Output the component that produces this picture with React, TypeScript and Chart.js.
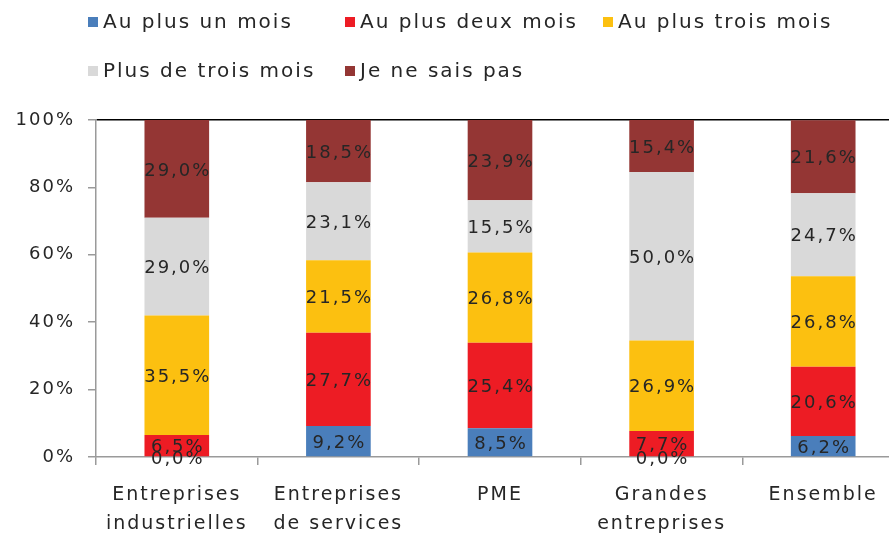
import React, { useEffect, useRef } from "react";
import { Chart, registerables } from "chart.js";

Chart.register(...registerables);

const categories: string[][] = [
  ["Entreprises", "industrielles"],
  ["Entreprises", "de services"],
  ["PME"],
  ["Grandes", "entreprises"],
  ["Ensemble"],
];

const seriesNames = [
  "Au plus un mois",
  "Au plus deux mois",
  "Au plus trois mois",
  "Plus de trois mois",
  "Je ne sais pas",
];

const auPlusUnMois = [0.0, 9.2, 8.5, 0.0, 6.2];
const auPlusDeuxMois = [6.5, 27.7, 25.4, 7.7, 20.6];
const auPlusTroisMois = [35.5, 21.5, 26.8, 26.9, 26.8];
const plusDeTroisMois = [29.0, 23.1, 15.5, 50.0, 24.7];
const jeNeSaisPas = [29.0, 18.5, 23.9, 15.4, 21.6];

const seriesValues = [auPlusUnMois, auPlusDeuxMois, auPlusTroisMois, plusDeTroisMois, jeNeSaisPas];
const seriesColors = ["#4A7EBB", "#ED1C24", "#FCC010", "#D9D9D9", "#943634"];

const yMax = 100;
const yStep = 20;

const FONT = '"DejaVu Sans", sans-serif';
const fmt = (v: number) => v.toFixed(1).replace(".", ",") + "%";

const spacingPlugin = {
  id: "spacing",
  beforeDraw(chart: any) {
    chart.ctx.letterSpacing = "2px";
  },
};

const labelPlugin = {
  id: "segLabels",
  afterDatasetsDraw(chart: any) {
    const ctx = chart.ctx;
    ctx.save();
    ctx.letterSpacing = "2px";
    ctx.font = `18px ${FONT}`;
    ctx.fillStyle = "#262626";
    ctx.textAlign = "center";
    ctx.textBaseline = "middle";
    chart.data.datasets.forEach((ds: any, i: number) => {
      const meta = chart.getDatasetMeta(i);
      meta.data.forEach((el: any, j: number) => {
        const v = ds.data[j];
        const y = (el.y + el.base) / 2;
        ctx.fillText(fmt(v), el.x + 1, y + 2);
      });
    });
    ctx.restore();
  },
};

const legendPlugin = {
  id: "customLegend",
  afterDraw(chart: any) {
    const ctx = chart.ctx;
    ctx.save();
    ctx.letterSpacing = "2px";
    ctx.font = `20px ${FONT}`;
    ctx.textAlign = "left";
    ctx.textBaseline = "middle";
    const cols = [88, 345, 603];
    const rows = [22, 71];
    chart.data.datasets.forEach((ds: any, i: number) => {
      const x = cols[i % 3];
      const y = rows[Math.floor(i / 3)];
      ctx.fillStyle = ds.backgroundColor;
      ctx.fillRect(x, y - 5, 10, 10);
      ctx.fillStyle = "#262626";
      ctx.fillText(ds.label, x + 15, y + 1);
    });
    ctx.restore();
  },
};

export default function App() {
  const ref = useRef<HTMLCanvasElement | null>(null);

  useEffect(() => {
    if (!ref.current) return;
    const chart = new Chart(ref.current, {
      type: "bar",
      data: {
        labels: categories,
        datasets: seriesNames.map((name, i) => ({
          label: name,
          data: seriesValues[i],
          backgroundColor: seriesColors[i],
          borderWidth: 0,
          barPercentage: 0.4,
          categoryPercentage: 1,
        })),
      },
      options: {
        animation: false,
        responsive: false,
        devicePixelRatio: 1,
        layout: { padding: { top: 120, left: 0, right: 0, bottom: 0 } },
        plugins: {
          legend: { display: false },
          tooltip: { enabled: false },
        },
        scales: {
          x: {
            stacked: true,
            grid: {
              offset: true,
              drawOnChartArea: false,
              color: "#9a9a9a",
              tickLength: 8,
              lineWidth: 1.5,
            },
            border: { color: "#9a9a9a", width: 1.5 },
            ticks: {
              color: "#262626",
              font: { family: FONT, size: 19, lineHeight: 1.55 },
              padding: 15,
              maxRotation: 0,
              autoSkip: false,
            },
            afterFit(scale: any) {
              scale.height = 78;
            },
          },
          y: {
            stacked: true,
            min: 0,
            max: yMax,
            ticks: {
              stepSize: yStep,
              color: "#262626",
              font: { family: FONT, size: 18 },
              padding: 13,
              callback: (v: any) => v + "%",
            },
            grid: {
              color: (c: any) => (c.tick && c.tick.value === yMax ? "#000000" : "rgba(0,0,0,0)"),
              tickColor: "#9a9a9a",
              tickLength: 8,
              lineWidth: 1.5,
            },
            border: { color: "#9a9a9a", width: 1.5 },
            afterFit(scale: any) {
              scale.width = 96;
            },
          },
        },
      },
      plugins: [spacingPlugin, labelPlugin, legendPlugin],
    });
    return () => chart.destroy();
  }, []);

  return (
    <div
      style={{
        position: "fixed",
        left: 0,
        top: 0,
        width: 889,
        height: 535,
        overflow: "hidden",
        background: "#fff",
      }}
    >
      <canvas ref={ref} width={904} height={535} style={{ display: "block" }} />
    </div>
  );
}
